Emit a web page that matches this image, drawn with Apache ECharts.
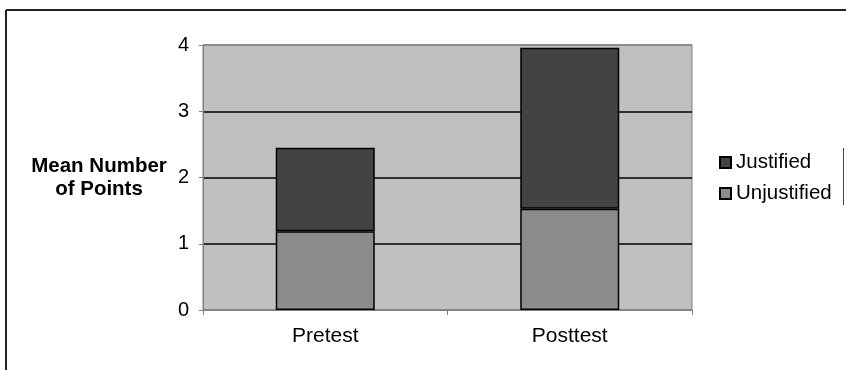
<!DOCTYPE html>
<html>
<head>
<meta charset="utf-8">
<style>html,body{margin:0;padding:0;background:#fff}#c{width:846px;height:370px}</style>
<script src="https://cdn.jsdelivr.net/npm/echarts@6/dist/echarts.min.js"></script>
</head>
<body>
<div id="c"></div>
<script>
var categories = ['Pretest', 'Posttest'];
var unjustified = [1.19, 1.53];
var justified = [1.26, 2.43];
var yTicks = [0, 1, 2, 3, 4];

var chart = echarts.init(document.getElementById('c'), null, {renderer: 'canvas'});
chart.setOption({
  animation: false,
  backgroundColor: '#ffffff',
  textStyle: {fontFamily: 'Liberation Sans, Arial, sans-serif'},
  grid: {left: 203, right: 154, top: 45, bottom: 60, show: true, backgroundColor: '#c0c0c0', borderColor: '#808080', borderWidth: 1},
  legend: {
    orient: 'vertical', left: 719, top: 152, itemWidth: 11, itemHeight: 11, itemGap: 10,
    icon: 'rect', padding: 0,
    textStyle: {fontSize: 20.5, color: '#000', padding: [0, 0, 0, 0]},
    data: ['Justified', 'Unjustified']
  },
  xAxis: {
    type: 'category', data: categories,
    axisLine: {lineStyle: {color: '#808080', width: 1}},
    axisTick: {show: true, length: 5, lineStyle: {color: '#808080'}},
    axisLabel: {fontSize: 21, color: '#000', margin: 16}
  },
  yAxis: {
    type: 'value', min: yTicks[0], max: yTicks[yTicks.length - 1], interval: 1,
    name: 'Mean Number\nof Points', nameLocation: 'middle', nameRotate: 0, nameGap: 104,
    nameTextStyle: {fontSize: 20.5, fontWeight: 'bold', color: '#000', align: 'center', lineHeight: 23},
    axisLine: {show: true, lineStyle: {color: '#808080'}},
    axisTick: {show: true, length: 4, lineStyle: {color: '#808080'}},
    axisLabel: {fontSize: 20, color: '#000', margin: 14},
    splitLine: {show: true, lineStyle: {color: ['#808080', '#000', '#000', '#000', '#808080'], width: 1.5}}
  },
  series: [
    {name: 'Unjustified', type: 'bar', stack: 's', data: unjustified, barWidth: '40.5%',
     itemStyle: {color: '#8c8c8c', borderColor: '#000', borderWidth: 1.5}},
    {name: 'Justified', type: 'bar', stack: 's', data: justified, barWidth: '40.5%',
     itemStyle: {color: '#434343', borderColor: '#000', borderWidth: 1.5}}
  ],
  graphic: [
    {type: 'line', shape: {x1: 6, y1: 10, x2: 6, y2: 370}, style: {stroke: '#222', lineWidth: 2}},
    {type: 'line', shape: {x1: 6, y1: 10, x2: 846, y2: 10}, style: {stroke: '#222', lineWidth: 2}},
    {type: 'line', shape: {x1: 843.5, y1: 148, x2: 843.5, y2: 205}, style: {stroke: '#444', lineWidth: 1}}
  ]
});
</script>
</body>
</html>
